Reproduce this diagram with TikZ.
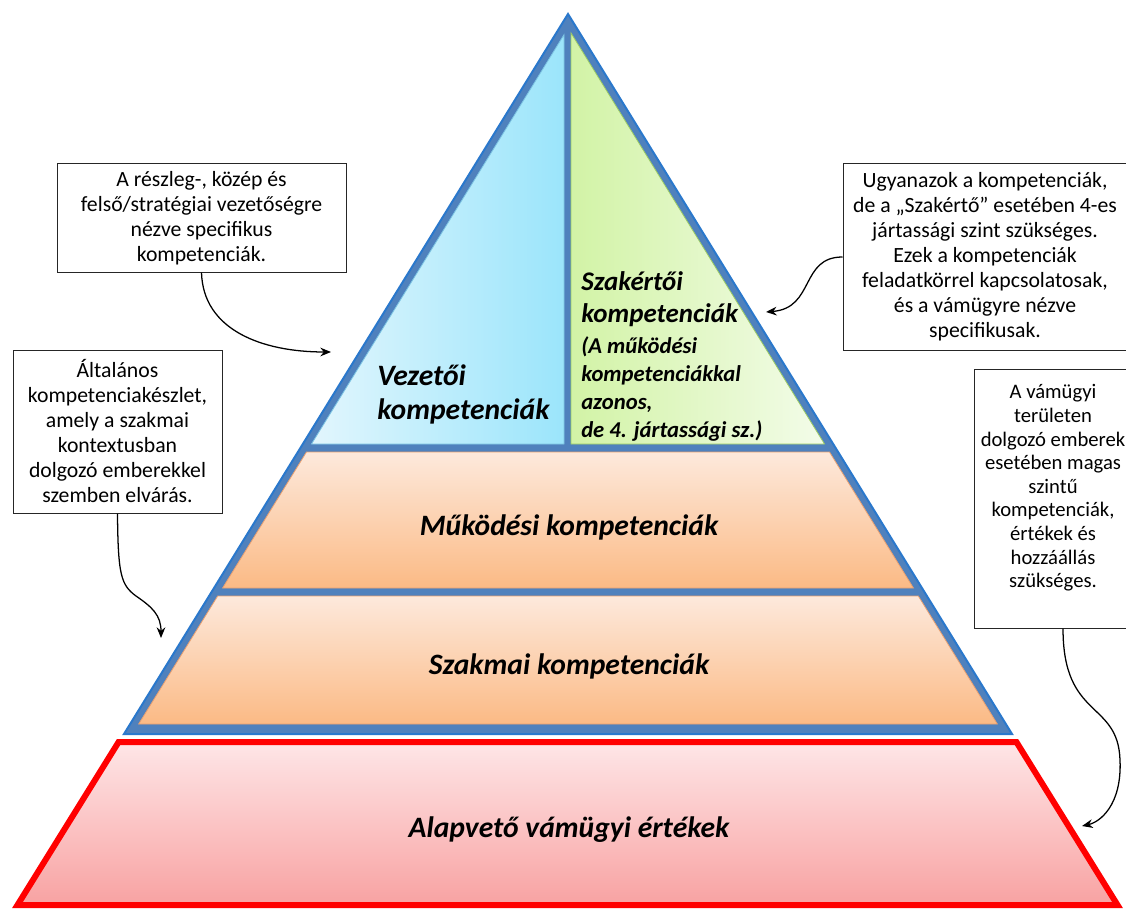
\documentclass[tikz,border=0pt]{standalone}
\usepackage{fontspec}
\setmainfont{Carlito}
\usetikzlibrary{arrows.meta}
\definecolor{frameblue}{HTML}{4F81BD}
\definecolor{edgeblue}{HTML}{2A78CC}
\definecolor{cyanL}{HTML}{E2F6FD}
\definecolor{cyanR}{HTML}{9BE5FB}
\definecolor{cyanEdge}{HTML}{7CC3E2}
\definecolor{greenL}{HTML}{D2F3A6}
\definecolor{greenR}{HTML}{F3FCE9}
\definecolor{greenEdge}{HTML}{9CCB64}
\definecolor{orangeT}{HTML}{FDE9DC}
\definecolor{orangeB}{HTML}{FBBA85}
\definecolor{orangeEdge}{HTML}{E9A070}
\definecolor{pinkT}{HTML}{FEE6E7}
\definecolor{pinkB}{HTML}{F8A2A2}
\definecolor{redEdge}{HTML}{FF0000}
\begin{document}
\begin{tikzpicture}[x=0.75pt,y=-0.75pt,
  callout/.style={draw=black!85, fill=white, line width=0.75pt, align=center,
    font=\fontsize{16.3}{18.75}\selectfont, inner sep=0pt},
  calltext/.style={align=center, font=\fontsize{15.5}{17.7}\selectfont, inner sep=0pt},
  tierlabel/.style={font=\fontsize{22.2}{26}\selectfont\bfseries\itshape, inner sep=0pt},
  conn/.style={-{Stealth[length=8pt,width=6.5pt]}, line width=0.95pt, black},
  tierbox/.style={top color=orangeT, bottom color=orangeB, draw=orangeEdge, line width=0.6pt}
]
\useasboundingbox (0,0) rectangle (1126,909);
\fill[white] (0,0) rectangle (1126,909);

% blue frame
\filldraw[fill=frameblue, draw=edgeblue, line width=1.5pt, line join=miter]
  (568,14) -- (1012,734) -- (124,734) -- cycle;

% top triangles
\path[left color=cyanL, right color=cyanR, draw=cyanEdge, line width=0.6pt]
  (564,34.7) -- (564,444) -- (311.5,444) -- cycle;
\path[left color=greenL, right color=greenR, draw=greenEdge, line width=0.6pt]
  (571,33) -- (824.5,444) -- (571,444) -- cycle;

% tiers
\path[tierbox] (306.5,452) -- (829.5,452) -- (913.4,588) -- (222.6,588) -- cycle;
\path[tierbox] (217.7,596) -- (918.3,596) -- (997.3,724) -- (138.7,724) -- cycle;

% red base
\path[top color=pinkT, bottom color=pinkB, draw=redEdge, line width=4.5pt, line join=miter]
  (118.6,742) -- (1016.4,742) -- (1117.5,905) -- (17.5,905) -- cycle;

% labels
\node[tierlabel, anchor=west, align=left] (vez) at (377,394) {Vezetői\\[-0.5pt]kompetenciák};
\node[anchor=west, align=left, inner sep=0pt, font=\fontsize{20.2}{24}\selectfont\bfseries\itshape] (szak1) at (581,299) {Szakértői\\kompetenciák};
\node[anchor=west, align=left, inner sep=0pt, font=\fontsize{17}{21}\selectfont\bfseries\itshape] (szak2) at (581,389) {(A működési\\kompetenciákkal\\azonos,\\de 4. jártassági sz.)};
\node[tierlabel] (mukodesi) at (569,527) {Működési kompetenciák};
\node[tierlabel] (szakmai) at (569,666) {Szakmai kompetenciák};
\node[tierlabel] (alap) at (569,830) {Alapvető vámügyi értékek};

% callouts
\node[callout, minimum width=216.75pt, minimum height=81pt] (boxA) at (201.5,218)
  {A részleg-, közép és\\felső/stratégiai vezetőségre\\nézve specifikus\\kompetenciák.};
\node[callout, minimum width=156.75pt, minimum height=122.25pt] (boxB) at (117.5,431.5)
  {Általános\\kompetenciakészlet,\\amely a szakmai\\kontextusban\\dolgozó emberekkel\\szemben elvárás.};
\node[callout, minimum width=213pt, minimum height=139.5pt] (boxC) at (985,257)
  {Ugyanazok a kompetenciák,\\de a „Szakértő” esetében 4-es\\jártassági szint szükséges.\\Ezek a kompetenciák\\feladatkörrel kapcsolatosak,\\és a vámügyre nézve\\specifikusak.};
\node[callout, minimum width=115.5pt, minimum height=194.25pt] (boxD) at (1051,498.5) {};
\node[calltext] (boxDtext) at (1053,488)
  {A vámügyi\\területen\\dolgozó emberek\\esetében magas\\szintű\\kompetenciák,\\értékek és\\hozzáállás\\szükséges.};

% arrow ends
\coordinate (a1) at (331,352);
\coordinate (a2) at (161,638);
\coordinate (a3) at (766,312);
\coordinate (a4) at (1082,826);

\draw[conn] (boxA.south) .. controls (203,330) and (262,352) .. (a1);
\draw[conn] (boxB.south) .. controls (118,575) and (121,585) .. (136,596) .. controls (152,607) and (161,615) .. (a2);
\draw[conn] (boxC.west) .. controls (800,257) and (815,308) .. (a3);
\draw[conn] ([xshift=9pt]boxD.south) .. controls (1063,720) and (1118,700) .. (1120,760) .. controls (1122,805) and (1100,822) .. (a4);
\end{tikzpicture}
\end{document}
